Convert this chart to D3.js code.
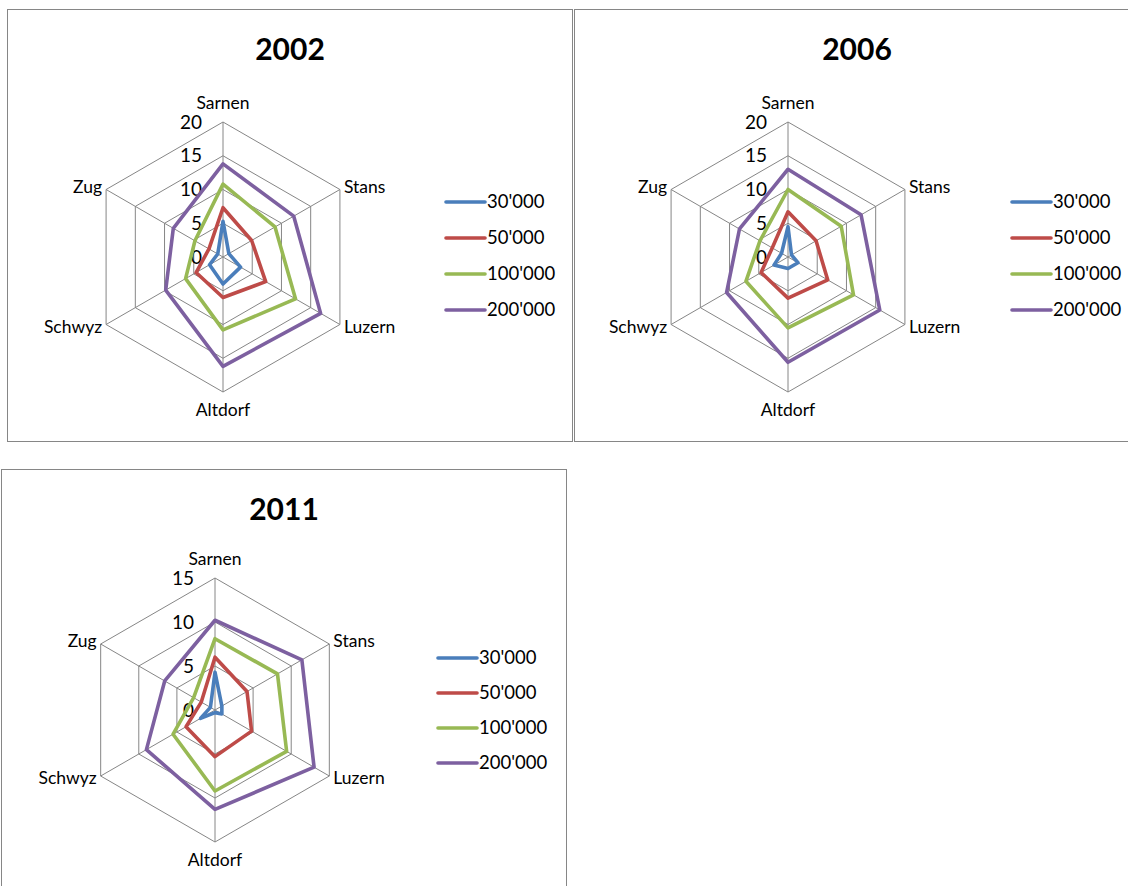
<!DOCTYPE html>
<html>
<head>
<meta charset="utf-8">
<script src="https://cdn.jsdelivr.net/npm/d3@7"></script>
<style>
  html, body { margin: 0; padding: 0; background: #fff; }
  svg { display: block; }
  text { font-family: Lato, "Open Sans", "Liberation Sans", sans-serif; fill: #000; }
</style>
</head>
<body>
<svg id="chart" width="1128" height="886"></svg>
<script>
// Axes of every radar (clockwise from the top)
const cities = ["Sarnen", "Stans", "Luzern", "Altdorf", "Schwyz", "Zug"];
const seriesNames = ["30'000", "50'000", "100'000", "200'000"];
const seriesColors = ["#4A7EBB", "#BE4B48", "#98B954", "#7D60A0"];

// 2002 values, one row per series
const values2002 = [
  [5.3, 1.0, 3.0, 4.0, 2.3, 0.9],
  [7.3, 4.9, 7.3, 6.0, 4.6, 2.4],
  [10.8, 8.9, 12.4, 10.8, 6.4, 4.8],
  [13.8, 12.1, 16.7, 16.2, 9.8, 8.5]
];
// 2006 values
const values2006 = [
  [4.5, 0.6, 1.7, 1.7, 2.4, 1.1],
  [6.7, 4.8, 6.8, 6.1, 4.6, 2.7],
  [10.0, 9.1, 11.2, 10.5, 7.2, 4.8],
  [13.0, 12.5, 15.7, 15.6, 10.5, 8.3]
];
// 2011 values
const values2011 = [
  [4.3, 0.9, 0.9, 0.3, 1.9, 0.6],
  [6.0, 4.2, 4.8, 5.3, 3.8, 1.8],
  [8.1, 8.2, 9.4, 9.2, 5.5, 2.8],
  [10.2, 11.4, 13.0, 11.3, 9.0, 6.6]
];

const ticks2002 = [0, 5, 10, 15, 20];
const ticks2006 = [0, 5, 10, 15, 20];
const ticks2011 = [0, 5, 10, 15];

const panels = [
  { title: "2002", values: values2002, ticks: ticks2002,
    frame: [7.5, 9.5, 565, 432], cx: 223, cy: 257, r: 135, legendX: 446, legendY: 202, legendStep: 36 },
  { title: "2006", values: values2006, ticks: ticks2006,
    frame: [574.5, 9.5, 565, 432], cx: 788, cy: 257, r: 135, legendX: 1012, legendY: 202, legendStep: 36 },
  { title: "2011", values: values2011, ticks: ticks2011,
    frame: [1.5, 469.5, 565, 432], cx: 215, cy: 710, r: 132, legendX: 438, legendY: 658, legendStep: 35 }
];

const svg = d3.select("#chart");
const gridColor = "#868686";
const angleStep = 2 * Math.PI / cities.length;

panels.forEach(p => {
  const g = svg.append("g");

  // chart frame
  g.append("rect")
    .attr("x", p.frame[0]).attr("y", p.frame[1])
    .attr("width", p.frame[2]).attr("height", p.frame[3])
    .attr("fill", "#fff").attr("stroke", gridColor).attr("stroke-width", 1);

  // title
  g.append("text")
    .attr("x", p.frame[0] + p.frame[2] / 2)
    .attr("y", p.frame[1] + 50)
    .attr("text-anchor", "middle")
    .attr("font-size", 30).attr("font-weight", "bold")
    .text(p.title);

  const maxV = d3.max(p.ticks);
  const rScale = d3.scaleLinear().domain([0, maxV]).range([0, p.r]);
  const plot = g.append("g").attr("transform", `translate(${p.cx},${p.cy})`);

  const pt = (i, v) => {
    const a = i * angleStep;
    return [rScale(v) * Math.sin(a), -rScale(v) * Math.cos(a)];
  };

  // hexagonal grid rings
  p.ticks.filter(t => t > 0).forEach(t => {
    plot.append("polygon")
      .attr("points", cities.map((c, i) => pt(i, t).join(",")).join(" "))
      .attr("fill", "none").attr("stroke", gridColor).attr("stroke-width", 1);
  });

  // spokes
  cities.forEach((c, i) => {
    const [x, y] = pt(i, maxV);
    plot.append("line")
      .attr("x1", 0).attr("y1", 0).attr("x2", x).attr("y2", y)
      .attr("stroke", gridColor).attr("stroke-width", 1);
  });

  // value ticks along the top axis
  p.ticks.forEach(t => {
    plot.append("text")
      .attr("x", -21).attr("y", -rScale(t))
      .attr("dy", "0.35em")
      .attr("text-anchor", "end")
      .attr("font-size", 19)
      .text(t);
  });

  // category labels
  cities.forEach((c, i) => {
    const [x, y] = pt(i, maxV);
    const lbl = plot.append("text").attr("font-size", 17.5).text(c);
    if (i === 0) {
      lbl.attr("x", x).attr("y", y - 13).attr("text-anchor", "middle");
    } else if (i === 3) {
      lbl.attr("x", x).attr("y", y + 24).attr("text-anchor", "middle");
    } else if (i === 1 || i === 5) {
      lbl.attr("x", i === 1 ? x + 4 : x - 4).attr("y", y - 3).attr("dy", "0.35em")
        .attr("text-anchor", i === 1 ? "start" : "end");
    } else {
      lbl.attr("x", i === 2 ? x + 4 : x - 4).attr("y", y + 2).attr("dy", "0.35em")
        .attr("text-anchor", i === 2 ? "start" : "end");
    }
  });

  // data series
  const radial = d3.lineRadial()
    .angle((d, i) => i * angleStep)
    .radius(d => rScale(d))
    .curve(d3.curveLinearClosed);

  p.values.forEach((row, s) => {
    plot.append("path")
      .attr("d", radial(row))
      .attr("fill", "none")
      .attr("stroke", seriesColors[s])
      .attr("stroke-width", 3.6)
      .attr("stroke-linejoin", "round");
  });

  // legend
  const lg = g.append("g");
  seriesNames.forEach((name, s) => {
    const y = p.legendY + s * p.legendStep;
    lg.append("line")
      .attr("x1", p.legendX).attr("x2", p.legendX + 39)
      .attr("y1", y).attr("y2", y)
      .attr("stroke", seriesColors[s]).attr("stroke-width", 3.6)
      .attr("stroke-linecap", "round");
    lg.append("text")
      .attr("x", p.legendX + 41).attr("y", y)
      .attr("dy", "0.35em").attr("font-size", 18.5)
      .text(name);
  });
});
</script>
</body>
</html>
